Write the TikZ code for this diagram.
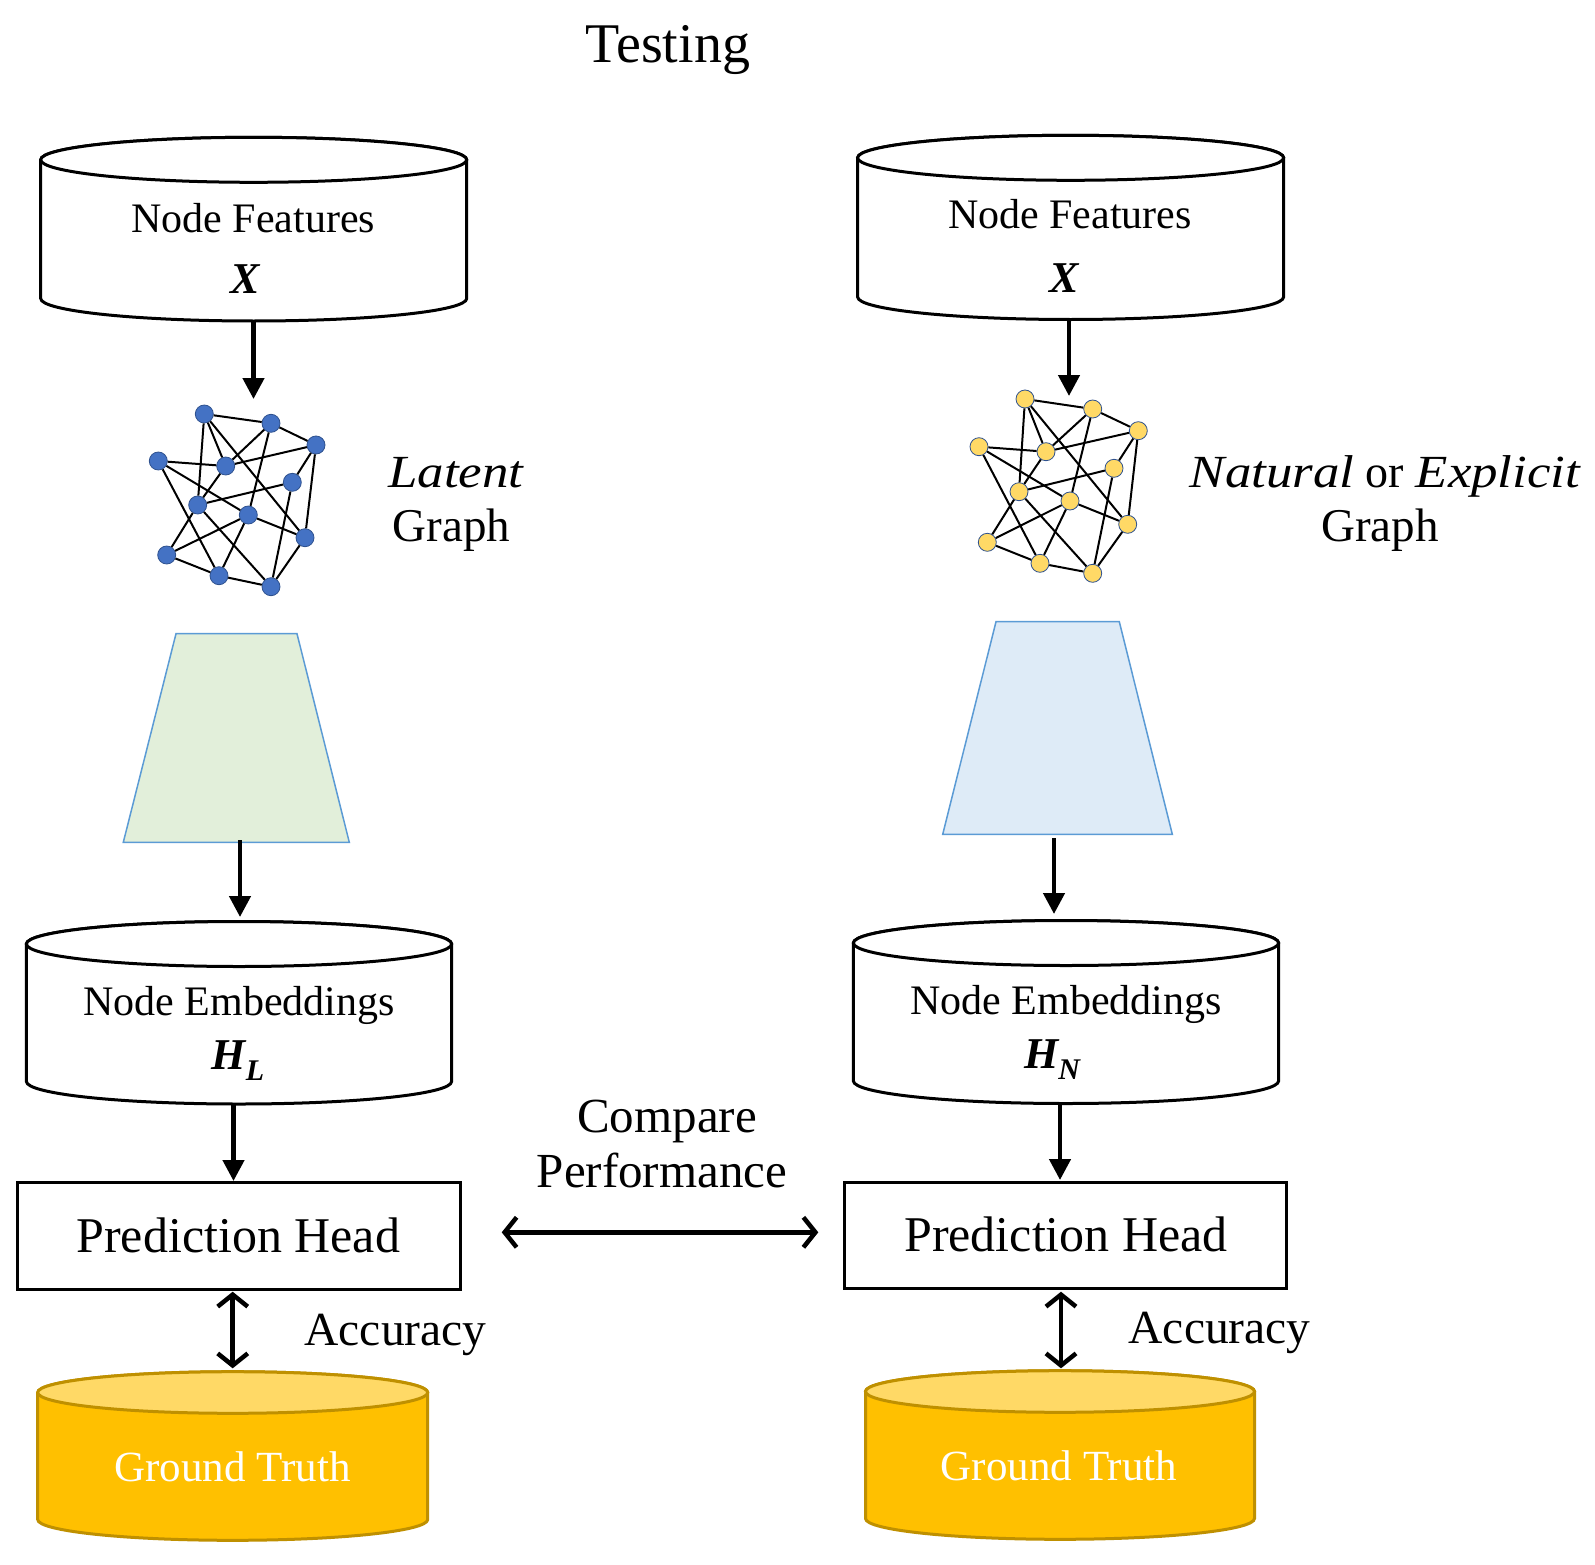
\documentclass[tikz,border=0pt]{standalone}
\usepackage{fontspec}
\usepackage{graphicx}
\setmainfont{Liberation Serif}
\usetikzlibrary{arrows.meta}
\definecolor{blueN}{HTML}{4472C4}
\definecolor{yellowN}{HTML}{FFD966}
\definecolor{nodeEdge}{HTML}{2F528F}
\definecolor{trapLine}{HTML}{5B9BD5}
\definecolor{trapGreen}{HTML}{E2EFDA}
\definecolor{trapBlue}{HTML}{DEEBF7}
\definecolor{gold}{HTML}{FFC000}
\definecolor{goldTop}{HTML}{FFD966}
\definecolor{goldLine}{HTML}{BF9000}
\newcommand\mycyl[9]{%
  \filldraw[draw=#8,line width=3pt,fill=#6] ({#1-#2},#3) -- ({#1-#2},#4)
    arc[start angle=180,end angle=360,x radius=#2pt,y radius=#5pt] -- ({#1+#2},#3)
    arc[start angle=0,end angle=180,x radius=#2pt,y radius=#5pt] -- cycle;
  \filldraw[draw=#8,line width=3pt,fill=#7] (#1,#3) ellipse[x radius=#2pt,y radius=#5pt];
  \coordinate (#9-t) at (#1,{#3-#5});
  \coordinate (#9-b) at (#1,{#4+#5});
}
\newcommand\wideit[1]{\scalebox{1.15}[1]{\itshape #1}}
\begin{document}
\begin{tikzpicture}[x=1pt,y=-1pt,
  lbl/.style={anchor=base,inner sep=0pt,font=\fontsize{42}{48}\selectfont},
  darr/.style={line width=4.5pt,-{Triangle[length=21pt,width=21pt]}},
  dbl/.style={line width=4.5pt,{Straight Barb[length=12pt,width=30pt]}-{Straight Barb[length=12pt,width=30pt]}},
  gedge/.style={line width=2pt},
  gnodeL/.style={circle,draw=nodeEdge,line width=0.8pt,fill=blueN,minimum size=18pt,inner sep=0pt},
  gnodeR/.style={circle,draw=nodeEdge,line width=0.8pt,fill=yellowN,minimum size=18pt,inner sep=0pt},
  trap/.style={draw=trapLine,line width=1.5pt},
  headbox/.style={draw,line width=3pt,inner sep=0pt}]
\useasboundingbox (0,0) rectangle (1595,1565);
\fill[white] (0,0) rectangle (1595,1565);

% title
\node[lbl,font=\fontsize{56}{62}\selectfont] (title) at (668,63) {Testing};

% cylinders
\mycyl{253.7}{213}{159.8}{298.5}{22.5}{white}{white}{black}{nfL}
\mycyl{1070.6}{213}{157.8}{297}{22.5}{white}{white}{black}{nfR}
\mycyl{239}{212.6}{944}{1081.5}{22.5}{white}{white}{black}{neL}
\mycyl{1066}{212.6}{943}{1081}{22.5}{white}{white}{black}{neR}
\mycyl{232.7}{195}{1392.5}{1519.5}{20.8}{gold}{goldTop}{goldLine}{gtL}
\mycyl{1060}{194.5}{1391.5}{1518.5}{20.8}{gold}{goldTop}{goldLine}{gtR}

\node[lbl] (nfLt) at (253.3,233) {Node Features};
\node[lbl,font=\fontsize{44}{48}\selectfont\bfseries\itshape] (nfLx) at (245,293) {X};
\node[lbl] (nfRt) at (1070,229) {Node Features};
\node[lbl,font=\fontsize{44}{48}\selectfont\bfseries\itshape] (nfRx) at (1064,292) {X};

\node[lbl] (neLt) at (239,1015) {Node Embeddings};
\node[lbl,font=\fontsize{44}{48}\selectfont\bfseries\itshape] (neLh) at (238,1069) {H\raisebox{-0.25em}{\fontsize{30}{30}\selectfont L}};
\node[lbl] (neRt) at (1066,1014) {Node Embeddings};
\node[lbl,font=\fontsize{44}{48}\selectfont\bfseries\itshape] (neRh) at (1052,1068) {H\raisebox{-0.25em}{\fontsize{30}{30}\selectfont N}};

\node[lbl,font=\fontsize{43}{48}\selectfont,text=white] (gtLt) at (232.5,1481) {Ground Truth};
\node[lbl,font=\fontsize{43}{48}\selectfont,text=white] (gtRt) at (1059,1480) {Ground Truth};

% trapezoids
\filldraw[trap,fill=trapGreen] (176,633.7) -- (297,633.7) -- (349.3,842.3) -- (123.3,842.3) -- cycle;
\filldraw[trap,fill=trapBlue] (996,621.7) -- (1119.3,621.7) -- (1172.3,834.3) -- (942.7,834.3) -- cycle;
\coordinate (trL) at (240,840);
\coordinate (trR) at (1054,838);

% graphs
\foreach \n/\x/\y in {1/204.3/414,2/271/423.3,3/316/445,4/158.3/461,5/225.7/466,6/292.3/482.3,7/197.7/505,8/248.3/515,9/305/537.7,10/166.7/555,11/219/575.7,12/271/586.7}
  \node[gnodeL] (gL\n) at (\x,\y) {};
\foreach \n/\x/\y in {1/1025/399,2/1092.7/409,3/1138.3/430.7,4/979/446.7,5/1046/451.7,6/1114/468.3,7/1019/491.7,8/1070/501,9/1127.7/524.3,10/987.3/542.3,11/1040/563.3,12/1092.7/573.3}
  \node[gnodeR] (gR\n) at (\x,\y) {};
\foreach \s in {L,R}{
  \foreach \a/\b in {1/2,1/5,1/7,1/9,2/3,2/5,2/8,3/5,3/6,3/9,4/5,4/8,4/11,5/7,6/7,6/12,7/10,7/12,8/9,8/10,8/11,9/12,10/11,11/12}
    \draw[gedge] (g\s\a) -- (g\s\b);
}
\coordinate (gLin) at (253.5,399);
\coordinate (gRin) at (1069,396);

\node[lbl,font=\fontsize{46}{52}\selectfont] (latent) at (456,487) {\wideit{Latent}};
\node[lbl,font=\fontsize{47}{52}\selectfont] (graphL) at (451.6,541) {Graph};
\node[lbl,font=\fontsize{46}{52}\selectfont] (natural) at (1385,487) {\wideit{Natural} or \wideit{Explicit}};
\node[lbl,font=\fontsize{47}{52}\selectfont] (graphR) at (1380,541) {Graph};

% prediction heads
\node[headbox,minimum width=443.7pt,minimum height=106.7pt] (phL) at (238.9,1235.7) {};
\node[headbox,minimum width=442.5pt,minimum height=106.8pt] (phR) at (1065.5,1235.4) {};
\node[lbl,font=\fontsize{50}{56}\selectfont] (phLt) at (238.3,1252) {Prediction Head};
\node[lbl,font=\fontsize{50}{56}\selectfont] (phRt) at (1066,1251) {Prediction Head};

\node[lbl,font=\fontsize{49}{54}\selectfont] (cmp1) at (667,1132) {Compare};
\node[lbl,font=\fontsize{49}{54}\selectfont] (cmp2) at (662,1187) {Performance};

\node[lbl,font=\fontsize{47.5}{52}\selectfont] (accL) at (395.5,1345.7) {Accuracy};
\node[lbl,font=\fontsize{47.5}{52}\selectfont] (accR) at (1219.6,1343.5) {Accuracy};

% arrows
\draw[darr] (253.5,321) -- (gLin);
\draw[darr] (1069,319) -- (gRin);
\draw[darr] (trL) -- (240,917);
\draw[darr] (trR) -- (1054,914);
\draw[darr] (233.5,1104) -- (233.5,1181);
\draw[darr] (1060,1104) -- (1060,1180);
\coordinate (hA) at (501.7,1232.3);
\coordinate (hB) at (818.3,1232.3);
\draw[dbl] (hA) -- (hB);
\draw[dbl] (232.7,1291.7) -- (232.7,1368.3);
\draw[dbl] (1061,1291.7) -- (1061,1368.3);
\end{tikzpicture}
\end{document}
